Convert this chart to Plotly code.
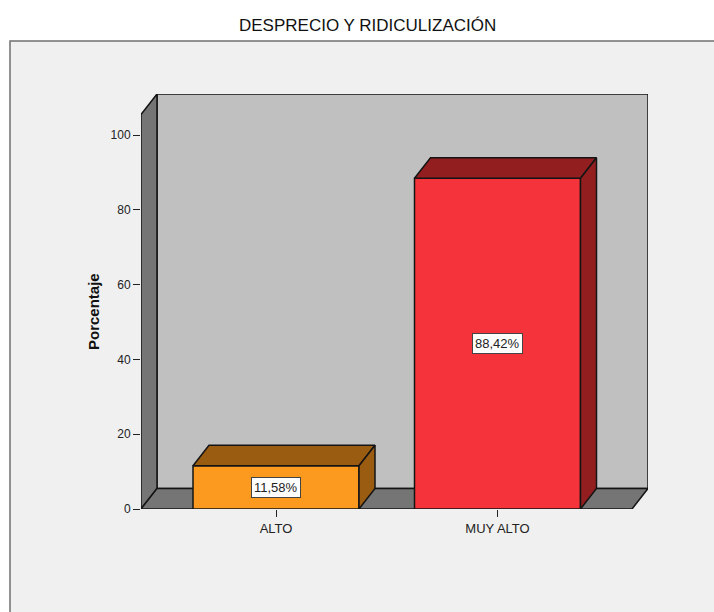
import plotly.graph_objects as go

categories = ["ALTO", "MUY ALTO"]
values = [11.58, 88.42]
labels = ["11,58%", "88,42%"]
front_colors = ["#FB9A1E", "#F4333A"]
dark_colors = ["#9A5C10", "#931E20"]
y_ticks = [0, 20, 40, 60, 80, 100]
title_text = "DESPRECIO Y RIDICULIZACIÓN"
y_title = "Porcentaje"

W, H = 714, 612
L, R, T, B = 141, 648, 94, 509          # plot box in pixels
px_x = 221.5                            # pixels per category step
px_y = 3.74                             # pixels per percent
cx0 = 276                               # pixel centre of the first category
bar_w = 166 / px_x
dx = 16 / px_x
dy = 20.5 / px_y
x_min = (L - cx0) / px_x
x_max = (R - cx0) / px_x
y_max = (B - T) / px_y
front_right = x_max - dx
wall_top = y_max - dy
xpos = list(range(len(categories)))
EDGE = "#141414"
edge = dict(color=EDGE, width=1.5)


def poly(points):
    return "M" + " L".join(f"{x},{y}" for x, y in points) + " Z"


shapes = [
    # panel behind everything
    dict(type="rect", xref="paper", yref="paper", x0=10 / W, x1=(W + 5) / W,
         y0=-5 / H, y1=1 - 41 / H,
         fillcolor="#F0F0F0", line=dict(color="#707070", width=1.5), layer="below"),
    # back wall
    dict(type="path", path=poly([(x_min + dx, dy), (x_max, dy), (x_max, y_max), (x_min + dx, y_max)]),
         fillcolor="#C0C0C0", line=edge, layer="below"),
    # left wall
    dict(type="path", path=poly([(x_min, 0), (x_min + dx, dy), (x_min + dx, y_max), (x_min, wall_top)]),
         fillcolor="#757575", line=edge, layer="below"),
    # floor
    dict(type="path", path=poly([(x_min, 0), (x_min + dx, dy), (x_max, dy), (front_right, 0)]),
         fillcolor="#757575", line=edge, layer="below"),
]

fig = go.Figure()

fig.add_trace(go.Bar(
    x=xpos, y=values, width=bar_w,
    marker=dict(color=front_colors, line=edge),
    hoverinfo="skip", showlegend=False,
))

for x, v, col in zip(xpos, values, dark_colors):
    xl, xr = x - bar_w / 2, x + bar_w / 2
    fig.add_trace(go.Scatter(
        x=[xl, xl + dx, xr + dx, xr, xl], y=[v, v + dy, v + dy, v, v],
        mode="lines", fill="toself", fillcolor=col, line=edge,
        hoverinfo="skip", showlegend=False,
    ))
    fig.add_trace(go.Scatter(
        x=[xr, xr + dx, xr + dx, xr, xr], y=[0, dy, v + dy, v, 0],
        mode="lines", fill="toself", fillcolor=col, line=edge,
        hoverinfo="skip", showlegend=False,
    ))

annotations = [
    dict(x=x, y=v / 2, text=t, showarrow=False, xref="x", yref="y",
         font=dict(family="Liberation Sans", size=13, color="#222222"),
         bgcolor="#FFFFFF", bordercolor="#444444", borderwidth=1, borderpad=2)
    for x, v, t in zip(xpos, values, labels)
]
annotations.append(dict(
    x=368 / W, y=1 - 26 / H, xref="paper", yref="paper",
    text=title_text, showarrow=False, xanchor="center", yanchor="middle",
    font=dict(family="Liberation Sans", size=17, color="#111111"),
))
annotations.append(dict(
    x=93 / W, y=1 - 312 / H, xref="paper", yref="paper",
    text=f"<b>{y_title}</b>", textangle=-90, showarrow=False, xanchor="center", yanchor="middle",
    font=dict(family="Liberation Sans", size=15, color="#111111"),
))

fig.update_layout(
    width=W, height=H,
    margin=dict(l=0, r=0, t=0, b=0, autoexpand=False),
    paper_bgcolor="#FFFFFF", plot_bgcolor="rgba(0,0,0,0)",
    shapes=shapes, annotations=annotations, showlegend=False,
    xaxis=dict(domain=[L / W, R / W], range=[x_min, x_max], tickmode="array",
               tickvals=xpos, ticktext=categories, ticks="outside", ticklen=7,
               tickwidth=1, tickcolor="#222222", showgrid=False, zeroline=False, showline=False,
               tickfont=dict(family="Liberation Sans", size=13, color="#222222")),
    yaxis=dict(domain=[(H - B) / H, (H - T) / H], range=[0, y_max], tickmode="array",
               tickvals=y_ticks, ticktext=[str(t) for t in y_ticks], ticks="outside", ticklen=7,
               tickwidth=1, tickcolor="#222222", showgrid=False, zeroline=False, showline=False,
               tickfont=dict(family="Liberation Sans", size=12, color="#222222")),
)

fig.write_html("out.html", config=dict(displayModeBar=False),
               post_script="document.body.style.margin='0';document.body.style.overflow='hidden';")
